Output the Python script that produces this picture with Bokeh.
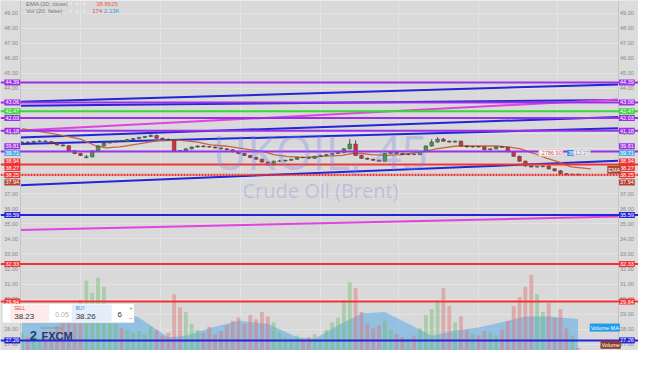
from bokeh.plotting import figure
from bokeh.models import (Range1d, LinearAxis, FixedTicker, NumeralTickFormatter,
                          Span, Label, BoxAnnotation, ColumnDataSource)
from bokeh.embed import file_html
from bokeh.resources import INLINE

# ---------------- data ----------------
opens = [40.38, 40.43, 40.40, 40.47, 40.50, 40.46, 40.37, 40.24, 40.18, 39.86,
         39.67, 39.40, 39.45, 39.84, 40.17, 40.37, 40.43, 40.49, 40.47, 40.60,
         40.66, 40.74, 40.80, 40.87, 40.68, 40.62, 40.56, 39.86, 39.84, 39.98,
         40.10, 40.17, 40.12, 40.10, 40.04, 39.98, 39.92, 39.79, 39.67, 39.54,
         39.41, 39.29, 39.10, 38.92, 39.16, 39.18, 39.22, 39.29, 39.41, 39.40,
         39.35, 39.48, 39.54, 39.60, 39.67, 39.73, 39.98, 40.30, 39.54, 39.35,
         39.29, 39.22, 39.16, 39.67, 39.79, 39.67, 39.60, 39.62, 39.60, 39.79,
         40.17, 40.43, 40.62, 40.49, 40.43, 40.49, 40.17, 40.11, 40.13, 40.11,
         39.92, 39.98, 40.11, 40.08, 39.79, 39.48, 39.16, 38.84, 38.78, 38.80,
         38.84, 38.65, 38.52, 38.33, 38.27, 38.29]
closes = [40.43, 40.40, 40.47, 40.50, 40.46, 40.37, 40.24, 40.18, 39.86, 39.67,
          39.54, 39.45, 39.84, 40.17, 40.37, 40.43, 40.49, 40.47, 40.60, 40.66,
          40.74, 40.80, 40.87, 40.68, 40.62, 40.56, 39.86, 39.84, 39.98, 40.10,
          40.17, 40.12, 40.10, 40.04, 39.98, 39.92, 39.79, 39.67, 39.54, 39.41,
          39.29, 39.10, 38.92, 39.16, 39.18, 39.22, 39.29, 39.41, 39.40, 39.35,
          39.48, 39.54, 39.60, 39.67, 39.73, 39.98, 40.30, 39.54, 39.35, 39.29,
          39.22, 39.16, 39.67, 39.79, 39.67, 39.60, 39.62, 39.60, 39.79, 40.17,
          40.43, 40.62, 40.49, 40.43, 40.49, 40.17, 40.11, 40.13, 40.11, 39.92,
          39.98, 40.11, 40.08, 39.79, 39.48, 39.16, 38.84, 38.78, 38.80, 38.84,
          38.65, 38.52, 38.33, 38.27, 38.29, 38.25]
highs = [40.48, 40.47, 40.52, 40.55, 40.54, 40.49, 40.40, 40.28, 40.22, 39.90,
         39.71, 39.58, 39.88, 40.21, 40.41, 40.47, 40.53, 40.53, 40.64, 40.70,
         40.78, 40.84, 40.95, 40.91, 40.72, 40.66, 40.60, 39.90, 40.02, 40.14,
         40.21, 40.21, 40.16, 40.14, 40.08, 40.02, 39.96, 39.83, 39.71, 39.58,
         39.45, 39.33, 39.14, 39.20, 39.22, 39.26, 39.33, 39.45, 39.45, 39.44,
         39.52, 39.58, 39.64, 39.71, 39.77, 40.02, 40.62, 40.55, 39.58, 39.39,
         39.33, 39.26, 39.71, 39.83, 39.83, 39.71, 39.66, 39.66, 39.83, 40.21,
         40.62, 40.75, 40.70, 40.53, 40.53, 40.53, 40.21, 40.17, 40.17, 40.15,
         40.02, 40.15, 40.15, 40.12, 39.83, 39.52, 39.20, 38.88, 38.84, 38.88,
         38.88, 38.69, 38.56, 38.37, 38.33, 38.33]
lows = [40.34, 40.36, 40.36, 40.43, 40.42, 40.33, 40.20, 40.14, 39.82, 39.63,
        39.50, 39.35, 39.41, 39.80, 40.13, 40.33, 40.39, 40.43, 40.43, 40.56,
        40.62, 40.70, 40.76, 40.64, 40.58, 40.52, 39.80, 39.78, 39.80, 39.94,
        40.06, 40.08, 40.06, 40.00, 39.94, 39.88, 39.75, 39.63, 39.50, 39.37,
        39.25, 39.06, 38.86, 38.88, 39.12, 39.14, 39.18, 39.25, 39.36, 39.31,
        39.31, 39.44, 39.50, 39.56, 39.63, 39.69, 39.94, 39.50, 39.31, 39.25,
        39.18, 39.12, 39.12, 39.63, 39.63, 39.56, 39.56, 39.56, 39.56, 39.75,
        40.13, 40.39, 40.45, 40.39, 40.39, 40.13, 40.07, 40.07, 40.07, 39.88,
        39.88, 39.94, 40.04, 39.75, 39.44, 39.12, 38.80, 38.74, 38.74, 38.76,
        38.61, 38.48, 38.29, 38.23, 38.23, 38.21]
volumes_k = [1.2, 0.9, 1.0, 0.8, 1.1, 1.3, 1.6, 2.0, 2.6, 3.0,
             3.4, 4.7, 3.9, 4.9, 4.3, 2.5, 1.8, 1.5, 1.4, 1.2,
             1.3, 1.1, 1.6, 1.4, 1.0, 1.2, 3.8, 2.9, 2.6, 1.8,
             1.4, 1.2, 1.6, 1.1, 1.3, 1.7, 2.0, 2.2, 1.8, 2.4,
             2.1, 2.6, 2.3, 1.9, 1.2, 0.9, 0.8, 1.0, 0.7, 0.9,
             1.1, 0.8, 1.4, 1.9, 2.2, 3.4, 4.6, 4.2, 2.6, 1.8,
             1.5, 1.7, 2.0, 1.4, 1.1, 0.9, 0.8, 1.0, 1.5, 2.4,
             2.8, 3.3, 4.2, 3.0, 1.9, 2.3, 1.4, 1.1, 1.0, 1.3,
             1.2, 1.0, 1.4, 2.0, 3.0, 3.6, 4.3, 5.1, 3.8, 2.6,
             3.2, 2.2, 2.8, 1.5, 1.0, 0.174]
ema_x = [0, 6, 10, 12.7, 14.3, 16.7, 21, 23.8, 26.7, 30, 32.2, 34.7, 38, 41.3,
         43, 45.2, 48, 51.3, 54.7, 56.3, 58, 59.7, 62.5, 64.7, 66.3, 68.5, 70.8,
         74.2, 77.5, 80.8, 83, 85.2, 87.5, 89.7, 91.8, 93.8, 97.2]
ema_v = [41.32, 40.94, 40.62, 40.17, 40.05, 40.11, 40.37, 40.56, 40.56, 40.43,
         40.24, 40.17, 39.98, 39.79, 39.60, 39.48, 39.41, 39.48, 39.54, 39.67,
         39.67, 39.60, 39.54, 39.60, 39.67, 39.79, 39.98, 40.17, 40.17, 40.17,
         40.11, 39.98, 39.67, 39.35, 39.10, 38.78, 38.65]
vma_x = [0, 5, 10, 15, 20, 25, 28, 32, 37, 42, 47, 50, 54, 58, 62, 66, 70,
         74, 78, 82, 86, 90, 95]
vma_k = [2.3, 2.8, 3.1, 3.0, 2.2, 0.9, 1.0, 1.5, 2.0, 1.8, 0.9, 0.8, 1.7, 2.5,
         2.6, 1.8, 1.0, 1.35, 1.55, 1.9, 2.3, 2.3, 2.13]

level_prices = [44.39, 43.06, 42.47, 42.03, 41.18, 39.81, 38.94, 38.25,
                35.59, 32.33, 29.84, 27.26]
level_kinds = ["purple", "purple", "green", "purple", "purple", "purple", "red",
               "reddot", "blue", "red", "red", "blue"]
tag_prices = [44.39, 43.06, 42.47, 42.03, 41.18, 39.81, 39.71, 38.94, 38.27,
              38.25, 37.94, 35.59, 32.33, 29.84, 27.26]
tag_kinds = ["purple", "purple", "green", "purple", "purple", "purple", "sky",
             "red", "red", "red", "brown", "blue", "red", "red", "blue"]

trend_x0 = [-0.33, -0.33, -0.33, -0.33, -0.33, -0.33, -0.33]
trend_y0 = [43.10, 42.84, 41.19, 40.74, 40.30, 37.57, 34.59]
trend_x1 = [101.83, 101.83, 101.83, 101.83, 101.83, 101.83, 101.83]
trend_y1 = [44.26, 43.23, 43.26, 42.10, 41.34, 39.19, 35.49]
trend_kinds = ["blue", "blue", "pink", "blue", "blue", "blue", "pink"]

y_ticks = list(range(27, 50))

# ---------------- styling ----------------
COL = {"purple": "#9b30e8", "green": "#38d838", "red": "#f03434", "reddot": "#f03434",
       "blue": "#2424d8", "sky": "#5aa8e6", "brown": "#b8402e", "pink": "#e044e0"}
TAG_DY = {39.81: 5.5, 38.94: 3.2, 38.27: 7.0, 37.94: -3.0}

W, H = 638, 350
FONT = "Liberation Sans"
LEFT_AX, RIGHT_AX = -0.33, 101.83     # axis line positions (candle index units)


def fx(x):
    return x * W / 654.0


def fy(y):
    return (366 - y) * H / 366.0


p = figure(width=W, height=H, output_backend="svg", toolbar_location=None,
           x_range=Range1d(-3.667, 105.33), y_range=Range1d(26.59, 49.83),
           x_axis_location=None, y_axis_location=None,
           background_fill_color="#d9d9d9", border_fill_color="#d9d9d9",
           outline_line_color=None, min_border=0)
p.extra_y_ranges = {"vol": Range1d(0, 23.6)}

p.ygrid.ticker = FixedTicker(ticks=y_ticks)
p.ygrid.grid_line_color = "#e3e3e3"
p.xgrid.ticker = FixedTicker(ticks=[10, 23.7, 37.3, 51, 64.3, 78, 91.5])
p.xgrid.grid_line_color = "#e3e3e3"

# plain strips under the two price scales
for l, r in ((0, 20), (633, 654)):
    p.add_layout(BoxAnnotation(left=fx(l), right=fx(r), left_units="screen",
                               right_units="screen", fill_color="#dcdcdc",
                               fill_alpha=1, line_color=None, level="underlay"))


def make_axis(loc):
    ax = LinearAxis(fixed_location=loc)
    ax.ticker = FixedTicker(ticks=y_ticks)
    ax.formatter = NumeralTickFormatter(format="0.00")
    ax.major_label_text_font_size = "5.5px"
    ax.major_label_text_color = "#8a8a8a"
    ax.major_label_text_font = FONT
    ax.axis_line_color = "#c6c6c6"
    ax.major_tick_line_color = None
    ax.minor_tick_line_color = None
    ax.major_tick_out = 0
    ax.major_tick_in = 0
    ax.minor_tick_out = 0
    ax.minor_tick_in = 0
    ax.major_label_standoff = 2
    return ax


p.add_layout(make_axis(LEFT_AX), "left")
p.add_layout(make_axis(RIGHT_AX), "right")

# volume MA area and volume bars
p.varea(x=vma_x, y1=[0] * len(vma_x), y2=vma_k, y_range_name="vol",
        fill_color="#5aa9e6", fill_alpha=0.55)
idx = list(range(len(closes)))
up = [c >= o for o, c in zip(opens, closes)]
vcol = ["#6cbf6c" if u else "#e07070" for u in up]
p.vbar(x=idx, top=volumes_k, bottom=0, width=0.65, y_range_name="vol",
       fill_color=vcol, fill_alpha=0.45, line_color=None)

# trend lines
for x0, y0, x1, y1, k in zip(trend_x0, trend_y0, trend_x1, trend_y1, trend_kinds):
    p.line([x0, x1], [y0, y1], line_color=COL[k], line_width=2)

# horizontal levels
for lv, k in zip(level_prices, level_kinds):
    p.add_layout(Span(location=lv, dimension="width", line_color=COL[k],
                      line_width=2.2 if k == "reddot" else 2,
                      line_dash="2 1" if k == "reddot" else "solid"))

# watermark
p.add_layout(Label(x=fx(328), y=fy(158), x_units="screen", y_units="screen",
                   text="UKOIL, 45", text_align="center", text_baseline="middle",
                   text_font="Open Sans", text_font_size="47px",
                   text_color="#7a84e6", text_alpha=0.33))
p.add_layout(Label(x=fx(328), y=fy(199), x_units="screen", y_units="screen",
                   text="Crude Oil (Brent)", text_align="center", text_baseline="middle",
                   text_font="Open Sans", text_font_size="20px",
                   text_color="#7a84e6", text_alpha=0.33))

# EMA
p.line(ema_x, ema_v, line_color="#c4653e", line_width=1.3)

# candles
src = ColumnDataSource(dict(
    x=idx, h=highs, l=lows,
    top=[max(o, c) for o, c in zip(opens, closes)],
    bot=[min(o, c) for o, c in zip(opens, closes)],
    col=["#3f9e44" if u else "#d03434" for u in up]))
p.segment(x0="x", y0="l", x1="x", y1="h", line_color="#4a4a4a", line_width=1, source=src)
p.vbar(x="x", width=0.62, top="top", bottom="bot", fill_color="col",
       line_color="#3a3a3a", line_width=0.5, source=src)


def tag(x, y, text, bg, fg="white", size="5.5px", y_units="screen", dy=0,
        border=None, align="left", bold=False):
    p.add_layout(Label(x=x, y=y, x_units="screen", y_units=y_units, y_offset=dy,
                       text=text, text_font=FONT, text_font_size=size,
                       text_color=fg, text_align=align, text_baseline="middle",
                       text_font_style="bold" if bold else "normal",
                       background_fill_color=bg, border_line_color=border,
                       padding=1))


# price tags on both scales
for pr, k in zip(tag_prices, tag_kinds):
    dy = TAG_DY.get(pr, 0) * H / 366.0
    tag(fx(4), pr, f"{pr:.2f}", COL[k], y_units="data", dy=dy)
    tag(fx(634), pr, f"{pr:.2f}", COL[k], y_units="data", dy=dy)

# legend rows at top-left
tag(fx(25), fy(3.5), "EMA (20, close)", None, fg="#7a7a7a", size="6px")
tag(fx(97), fy(3.5), "38.8625", None, fg="#e0684a", size="6px")
tag(fx(25), fy(11.5), "Vol (20, false)", None, fg="#7a7a7a", size="6px")
tag(fx(93), fy(11.5), "174", None, fg="#e05050", size="6px")
tag(fx(105), fy(11.5), "2.13K", None, fg="#3f8fe0", size="6px")
for bx in (69, 76, 83):
    for by in (3.5, 11.5):
        p.add_layout(BoxAnnotation(left=fx(bx), right=fx(bx + 5), bottom=fy(by + 2.5),
                                   top=fy(by - 2.5), left_units="screen",
                                   right_units="screen", top_units="screen",
                                   bottom_units="screen", fill_color="#e2e2e2",
                                   fill_alpha=1, line_color="#c4c4c4", line_width=0.7))

# order tag
tag(fx(552), fy(159.5), "-2786.90", "white", fg="#e53935", size="5.5px", border="#d0d0d0")
tag(fx(581), fy(159.5), "38", "#3d8be0", size="5.5px")
tag(fx(588), fy(159.5), "12", "#f4f4f4", fg="#6a8ac0", size="5.5px", border="#d0d0d0")
tag(fx(596), fy(159.5), "27", "#f4f4f4", fg="#6a8ac0", size="5.5px", border="#d0d0d0")
tag(fx(622), fy(177), "EMA", "#a84a33", size="5.5px")

# volume labels
tag(fx(604), fy(342), "Volume MA", "#1e9be9", size="5.5px")
tag(fx(615), fy(360), "Volume", "#8d3b2b", size="5.5px")


# sell / buy widget
def box(l, r, t, b, color, line=None):
    p.add_layout(BoxAnnotation(left=fx(l), right=fx(r), top=fy(t), bottom=fy(b),
                               left_units="screen", right_units="screen",
                               top_units="screen", bottom_units="screen",
                               fill_color=color, fill_alpha=1, line_color=line,
                               line_width=0.8))


box(2, 137, 317, 337, "#ffffff", "#d4d4d4")
box(10, 50, 318, 336, "#fdebeb")
box(73, 114, 318, 336, "#e4eefa")
tag(fx(13), fy(322), "SELL", None, fg="#e53935", size="4.5px")
tag(fx(13), fy(330.5), "38.23", None, fg="#333333", size="8px")
tag(fx(55), fy(328), "0.05", None, fg="#b0b0b0", size="7px")
tag(fx(76), fy(322), "BUY", None, fg="#1e88e5", size="4.5px")
tag(fx(76), fy(330.5), "38.26", None, fg="#333333", size="8px")
tag(fx(119), fy(328), "6", None, fg="#333333", size="8px")
tag(fx(131), fy(321.5), "+", None, fg="#3cb043", size="6px")
tag(fx(131), fy(331.5), "\u2212", None, fg="#e53935", size="6px")

# sponsor logo
tag(fx(40), fy(342), "Sponsored by", None, fg="#8a8a8a", size="3.5px")
tag(fx(29), fy(350.5), "2", None, fg="#1d3d7a", size="13px", bold=True)
tag(fx(41), fy(350.5), "FXCM", None, fg="#1d3d7a", size="11px", bold=True)

open("out.html", "w").write(file_html(p, INLINE))
